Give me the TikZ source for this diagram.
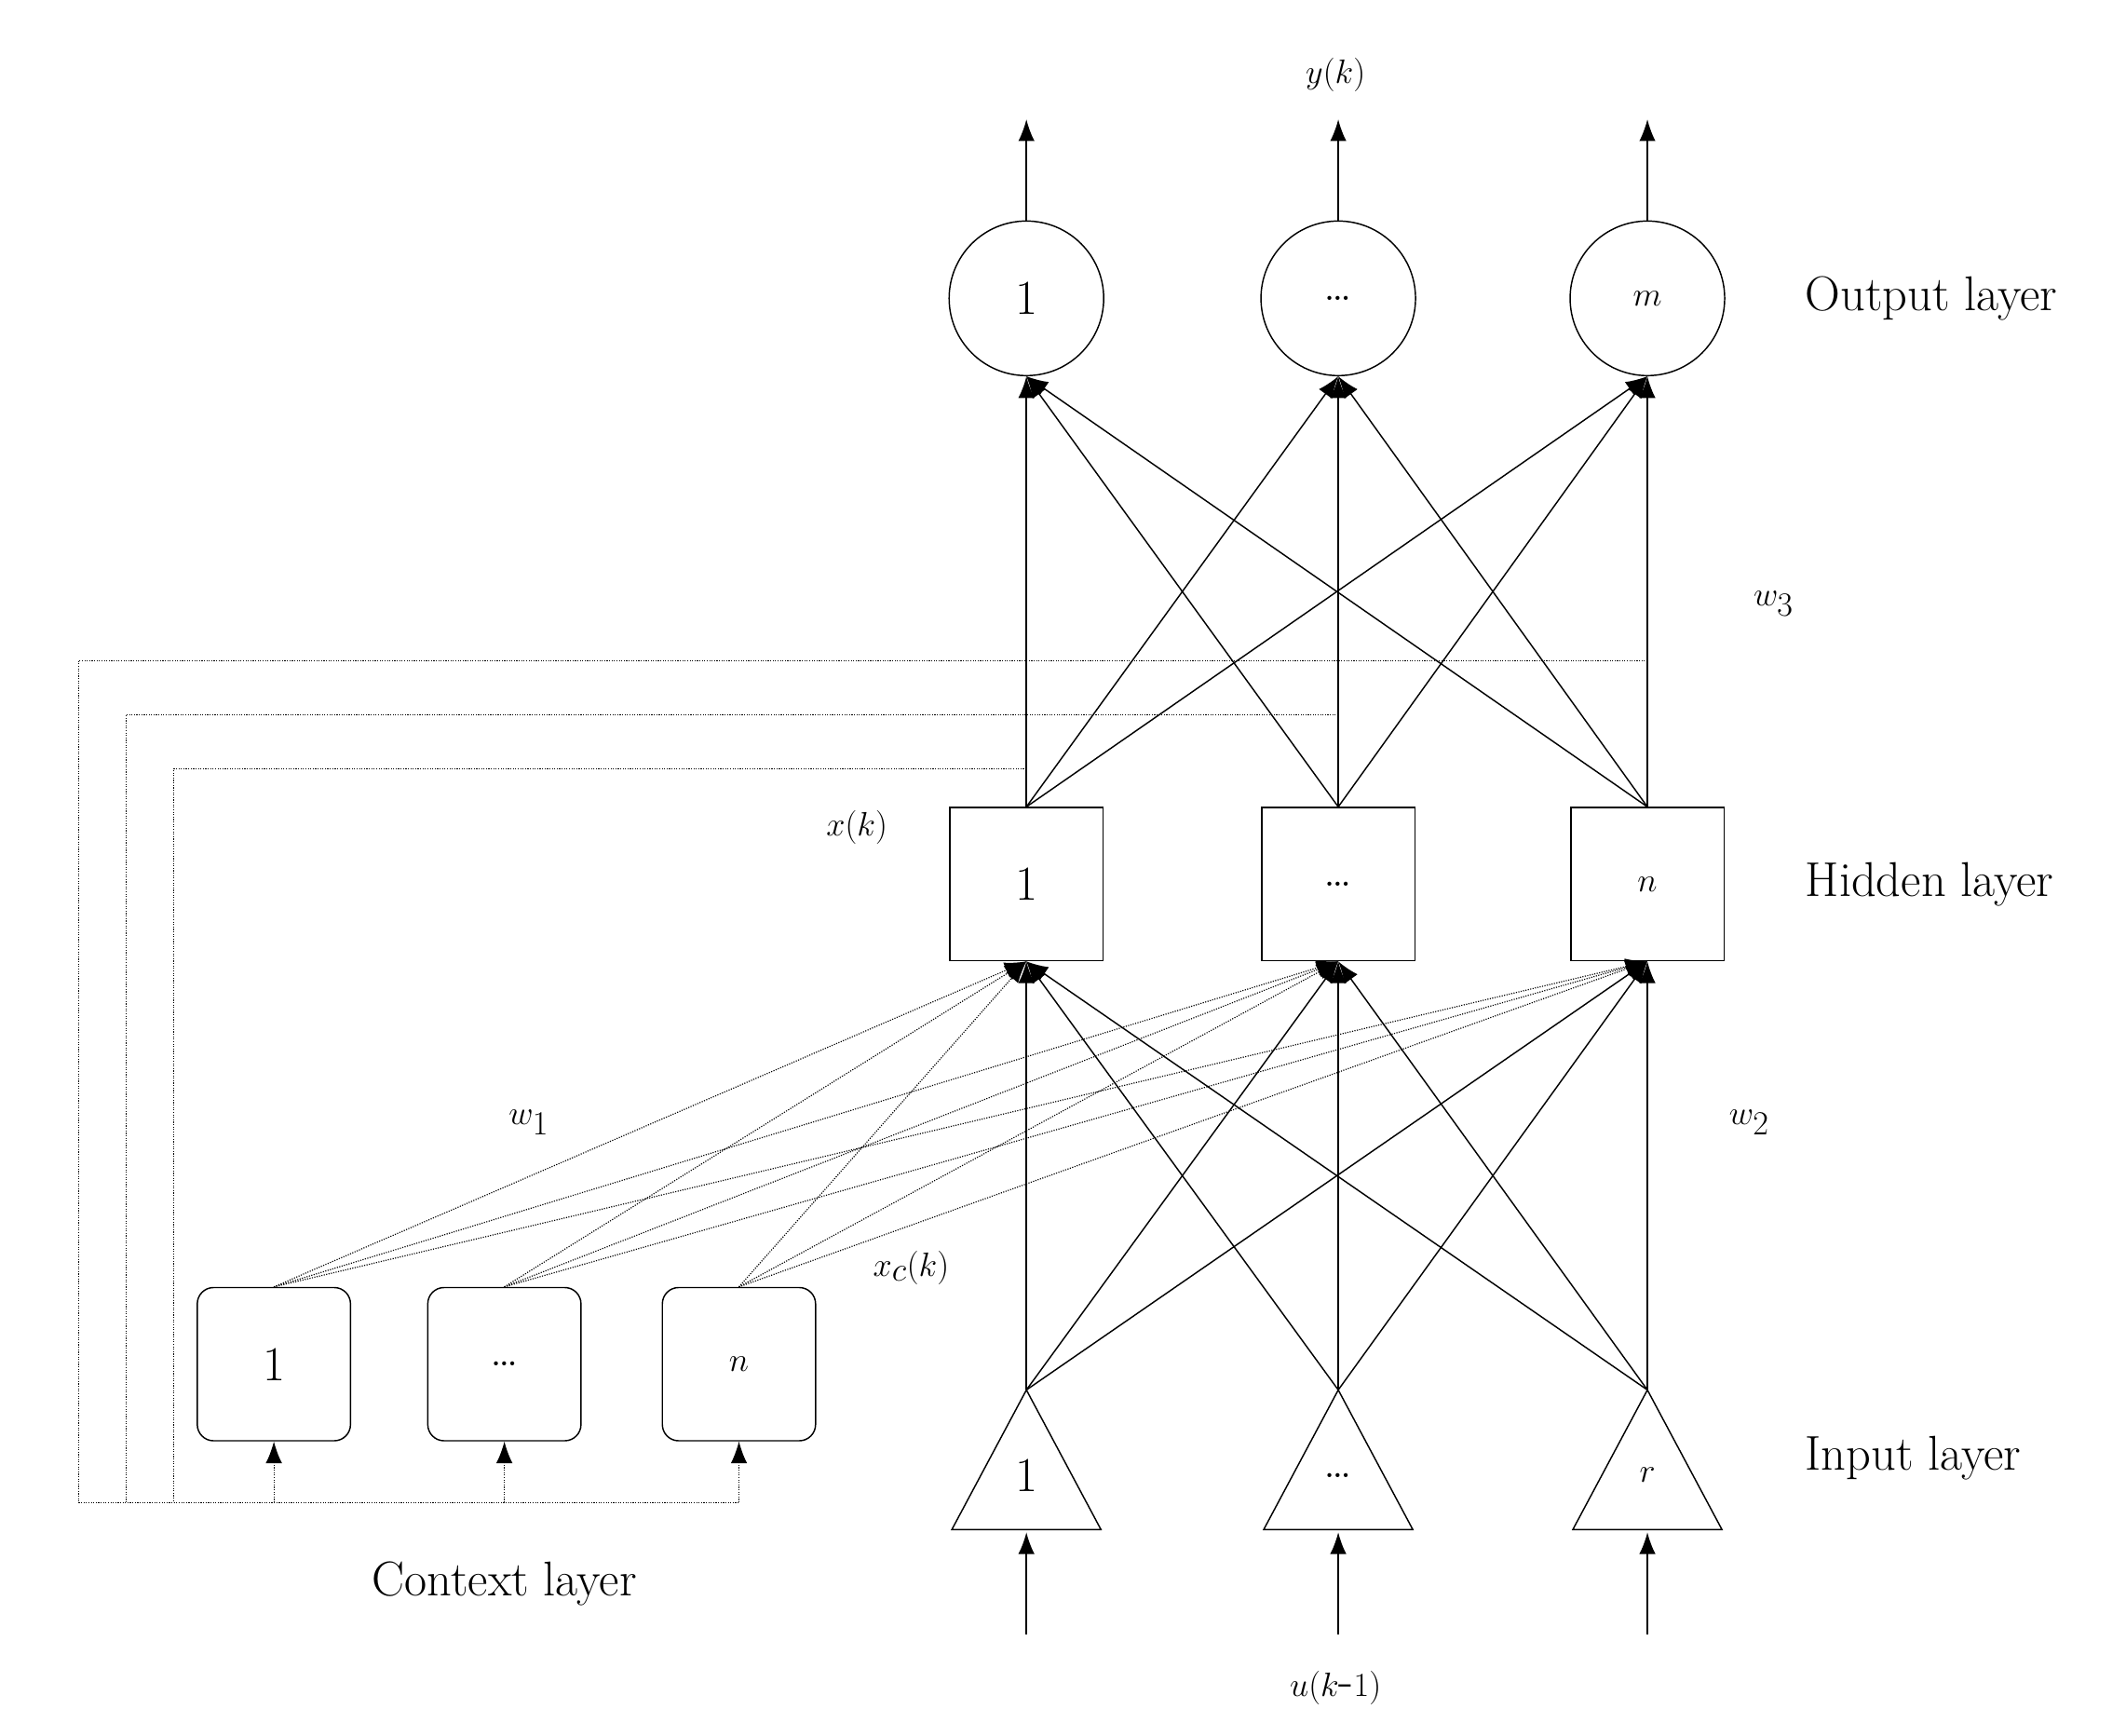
\documentclass[tikz,border=0pt]{standalone}
\usetikzlibrary{arrows.meta}
\begin{document}
\begin{tikzpicture}[x=1pt,y=-1pt,
  txt/.style={font=\fontsize{36}{40}\selectfont},
  outn/.style={circle,draw,line width=1pt,minimum size=114pt,inner sep=0pt,txt},
  hidn/.style={rectangle,draw,line width=1pt,minimum size=113pt,inner sep=0pt,txt},
  ctxn/.style={rectangle,rounded corners=12pt,draw,line width=1pt,minimum size=113pt,inner sep=0pt,txt},
  arr/.style={line width=1pt,-{Latex[length=16pt,width=12pt]}},
  dl/.style={line width=0.8pt,densely dotted},
  tri/.style={draw,line width=1pt}]
\useasboundingbox (0,0) rectangle (1568,1280);
% output
\node[outn] (o1) at (757,220) {1};
\node[outn] (o2) at (987,220) {\dots};
\node[outn] (o3) at (1215,220) {$m$};
% hidden
\node[hidn] (h1) at (757,652) {1};
\node[hidn] (h2) at (987,652) {\dots};
\node[hidn] (h3) at (1215,652) {$n$};
% context
\node[ctxn] (c1) at (202,1006) {1};
\node[ctxn] (c2) at (372,1006) {\dots};
\node[ctxn] (c3) at (545,1006) {$n$};
% input triangles
\foreach \i/\x/\t in {1/757/1,2/987/\dots,3/1215/$r$}{
  \coordinate (a\i) at (\x,1025);
  \draw[tri] (\x,1025) -- (\x-55,1128) -- (\x+55,1128) -- cycle;
  \node[txt] at (\x,1088) {\t};
  \coordinate (ib\i) at (\x,1130);
  \coordinate (is\i) at (\x,1205);
  \draw[arr] (is\i) -- (ib\i);
  \coordinate (ot\i) at (\x,88);
}
\draw[arr] (o1.north) -- (ot1);
\draw[arr] (o2.north) -- (ot2);
\draw[arr] (o3.north) -- (ot3);
% hidden to output
\foreach \i in {1,2,3}{\foreach \j in {1,2,3}{
  \draw[arr] (h\i.north) -- (o\j.south);
  \draw[arr] (a\i) -- (h\j.south);
  \draw[dl,-{Latex[length=16pt,width=12pt]}] (c\i.north) -- (h\j.south);
}}
% feedback
\coordinate (f1) at (128,1108);
\coordinate (f2) at (93,1108);
\coordinate (f3) at (58,1108);
\coordinate (k1) at (757,567);
\coordinate (k2) at (987,527);
\coordinate (k3) at (1215,487);
\draw[dl] (k1) -- (128,567) -- (f1);
\draw[dl] (k2) -- (93,527) -- (f2);
\draw[dl] (k3) -- (58,487) -- (f3);
\coordinate (fe) at (545,1108);
\draw[dl] (f3) -- (fe);
\draw[dl,-{Latex[length=16pt,width=12pt]}] (202,1108) -- (c1.south);
\draw[dl,-{Latex[length=16pt,width=12pt]}] (372,1108) -- (c2.south);
\draw[dl,-{Latex[length=16pt,width=12pt]}] (fe) -- (c3.south);
% labels
\node[txt] at (985,55) {$y(k)$};
\node[txt] at (985,1245) {$u(k$-$1)$};
\node[txt] at (1308,445) {$w_3$};
\node[txt] at (1290,828) {$w_2$};
\node[txt] at (390,828) {$w_1$};
\node[txt] at (632,610) {$x(k)$};
\node[txt] at (672,935) {$x_c(k)$};
\node[txt,anchor=west] at (1328,220) {Output layer};
\node[txt,anchor=west] at (1328,652) {Hidden layer};
\node[txt,anchor=west] at (1328,1075) {Input layer};
\node[txt] at (372,1168) {Context layer};
\end{tikzpicture}
\end{document}
